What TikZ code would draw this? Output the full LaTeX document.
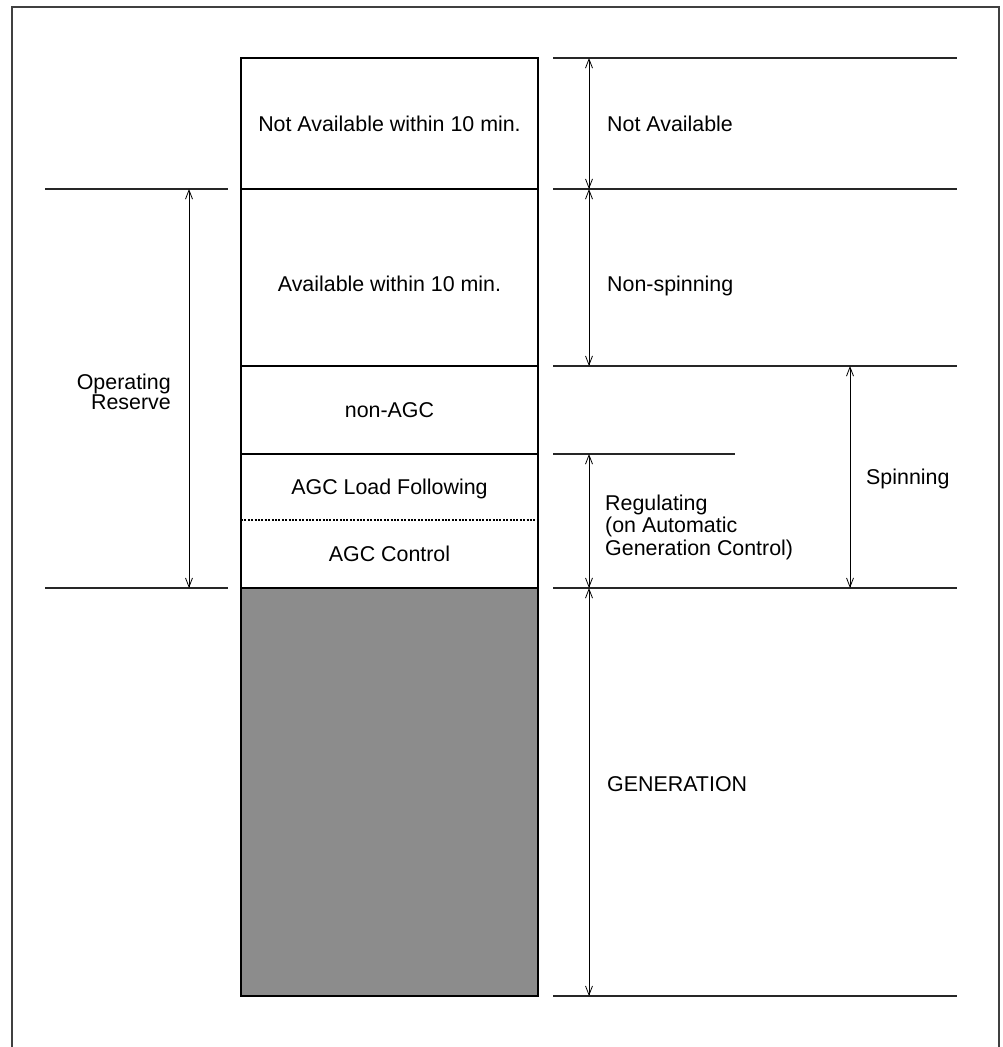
\documentclass[tikz,border=0pt]{standalone}
\usepackage{fontspec}
\setmainfont{Liberation Sans}
\usetikzlibrary{arrows.meta, positioning, calc}

\begin{document}
\begin{tikzpicture}[
  x=1pt, y=-1pt,
  every node/.style={font=\fontsize{21.4}{20}\selectfont, inner sep=0pt},
  band/.style={draw=black, line width=2.4pt, outer sep=0pt, minimum width=297pt, anchor=north, text height=15.4pt, text depth=0pt},
  level/.style={line width=1.3pt, black!85},
  dim/.style={{Straight Barb[length=9pt, width=7pt]}-{Straight Barb[length=9pt, width=7pt]}, line width=0.8pt},
  lbl/.style={anchor=west, align=left, text height=15.4pt, text depth=0pt},
  agc/.style={text height=15.4pt, text depth=0pt}
]
  \useasboundingbox (0,0) rectangle (1003,1047);
  \draw[line width=1.2pt, black!75] (12,1047) -- (12,7) -- (999,7) -- (999,1047);

  % reserve bands
  \node[band, minimum height=131pt] (notavail) at (389.5,58) {Not Available within 10 min.};
  \node[band, minimum height=177pt, text height=28.4pt] (avail) at (notavail.south) {Available within 10 min.};
  \node[band, minimum height=88pt] (nonagc) at (avail.south) {non-AGC};
  \node[band, minimum height=134pt] (reg) at (nonagc.south) {};
  \node[band, minimum height=408pt, fill=black!45] (gen) at (reg.south) {};
  \node[agc] (loadfol) at (389.5,487) {AGC Load Following};
  \node[agc] (agcctl) at (389.5,554) {AGC Control};
  \draw[line width=2pt, dash pattern=on 2pt off 1.4pt] (reg.west |- 0,520) -- (reg.east |- 0,520);

  % guide columns
  \coordinate (lx1) at (45,0);
  \coordinate (lx2) at (228,0);
  \coordinate (la) at (189,0);
  \coordinate (rx1) at (553,0);
  \coordinate (rx2) at (957,0);
  \coordinate (rx3) at (735,0);
  \coordinate (ra) at (589,0);
  \coordinate (sa) at (850,0);

  % level lines
  \foreach \b in {notavail.north, avail.north, nonagc.north, gen.north, gen.south}
    \draw[level] (\b -| rx1) -- (\b -| rx2);
  \draw[level] (reg.north -| rx1) -- (reg.north -| rx3);
  \draw[level] (avail.north -| lx1) -- (avail.north -| lx2);
  \draw[level] (gen.north -| lx1) -- (gen.north -| lx2);

  % dimension arrows
  \draw[dim] (notavail.north -| ra) -- (notavail.south -| ra);
  \draw[dim] (avail.north -| ra) -- (avail.south -| ra);
  \draw[dim] (reg.north -| ra) -- (reg.south -| ra);
  \draw[dim] (gen.north -| ra) -- (gen.south -| ra);
  \draw[dim] (nonagc.north -| sa) -- (gen.north -| sa);
  \draw[dim] (avail.north -| la) -- (gen.north -| la);

  \node[lbl] (notavaillbl) at (607,123.5) {Not Available};
  \node[lbl] (nonspin) at (607,284) {Non-spinning};
  \node[anchor=west, align=left, font=\fontsize{21.4}{22.5}\selectfont] (reglbl) at (605,527) {Regulating\\(on Automatic\\Generation Control)};
  \node[lbl] (spin) at (866,477) {Spinning};
  \node[lbl] (genlbl) at (607,784) {GENERATION};
  \node[anchor=east, align=right, font=\fontsize{21.4}{19}\selectfont] (opres) at (171,392) {Operating\\Reserve};
\end{tikzpicture}
\end{document}
